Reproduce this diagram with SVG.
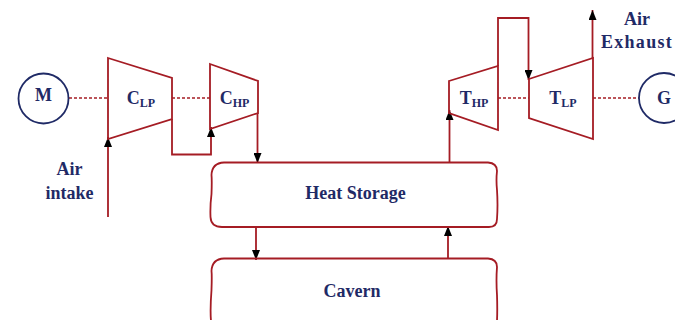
<svg xmlns="http://www.w3.org/2000/svg" width="675" height="320" viewBox="0 0 675 320">
<style>
.l{fill:none;stroke:#a51c24;stroke-width:1.8}
.d{fill:none;stroke:#a51c24;stroke-width:1.7;stroke-dasharray:3 2}
.c{fill:#fff;stroke:#1f2a66;stroke-width:1.8}
text{font-family:"Liberation Serif",serif;font-weight:700;fill:#1f2a66;font-size:18px;text-anchor:middle}
.sm{font-size:12px}
</style>
<defs>
<marker id="a" viewBox="0 0 10 8" refX="10" refY="4" markerWidth="10" markerHeight="8" markerUnits="userSpaceOnUse" orient="auto"><path d="M0 0L10 4L0 8Z" fill="#000"/></marker>
</defs>
<g id="connectors">
<path class="d" d="M69 98H108M172 98H210M498 98H529M593 98H639"/>
<path class="l" marker-end="url(#a)" d="M108 217V137"/>
<path class="l" marker-end="url(#a)" d="M172 119V154.500H211V127"/>
<path class="l" marker-end="url(#a)" d="M257.500 113V163"/>
<path class="l" marker-end="url(#a)" d="M449.500 162V110"/>
<path class="l" marker-end="url(#a)" d="M498 66V18H528.500V80"/>
<path class="l" marker-end="url(#a)" d="M592.500 59V10"/>
<path class="l" marker-end="url(#a)" d="M256 227V260"/>
<path class="l" marker-end="url(#a)" d="M448 258V226"/>
</g>
<g id="motor"><circle class="c" cx="43.500" cy="98.500" r="25"/><text x="43.500" y="101">M</text></g>
<g id="clp"><path class="l" d="M108 58L172 78V119L108 139Z"/><text x="141" y="104">C<tspan class="sm" dy="2.500">LP</tspan></text></g>
<g id="chp"><path class="l" d="M210 64L258 81V113L210 129Z"/><text x="234.500" y="104">C<tspan class="sm" dy="2.500">HP</tspan></text></g>
<g id="air-intake"><text x="69.500" y="175">Air</text><text x="69.500" y="199">intake</text></g>
<g id="heat-storage"><path class="l" d="M224 162.500H488Q497 163 497 171Q496 180 497 190Q498 205 497 219Q497 227 489 227H222Q211 227 210.500 217Q210 206 211.500 194Q212 180 211.500 175Q212 163 224 162.500Z"/><text x="355.500" y="199">Heat Storage</text></g>
<g id="cavern"><path class="l" d="M224 258.500H488Q497 259 497 267Q496 280 497 295Q497.500 310 497 321H211Q210 310 211.500 290Q212 275 211.500 271Q212 259 224 258.500Z"/><text x="352" y="297">Cavern</text></g>
<g id="thp"><path class="l" d="M449 81L498 66V130L449 113Z"/><text x="474" y="104">T<tspan class="sm" dy="2.500">HP</tspan></text></g>
<g id="tlp"><path class="l" d="M529 79L593 58V139L529 118Z"/><text x="563" y="104">T<tspan class="sm" dy="2.500">LP</tspan></text></g>
<g id="air-exhaust"><text x="637" y="25">Air</text><text x="637" y="48" letter-spacing="1.300">Exhaust</text></g>
<g id="generator"><circle class="c" cx="664" cy="98" r="25"/><text x="664" y="104">G</text></g>
</svg>
